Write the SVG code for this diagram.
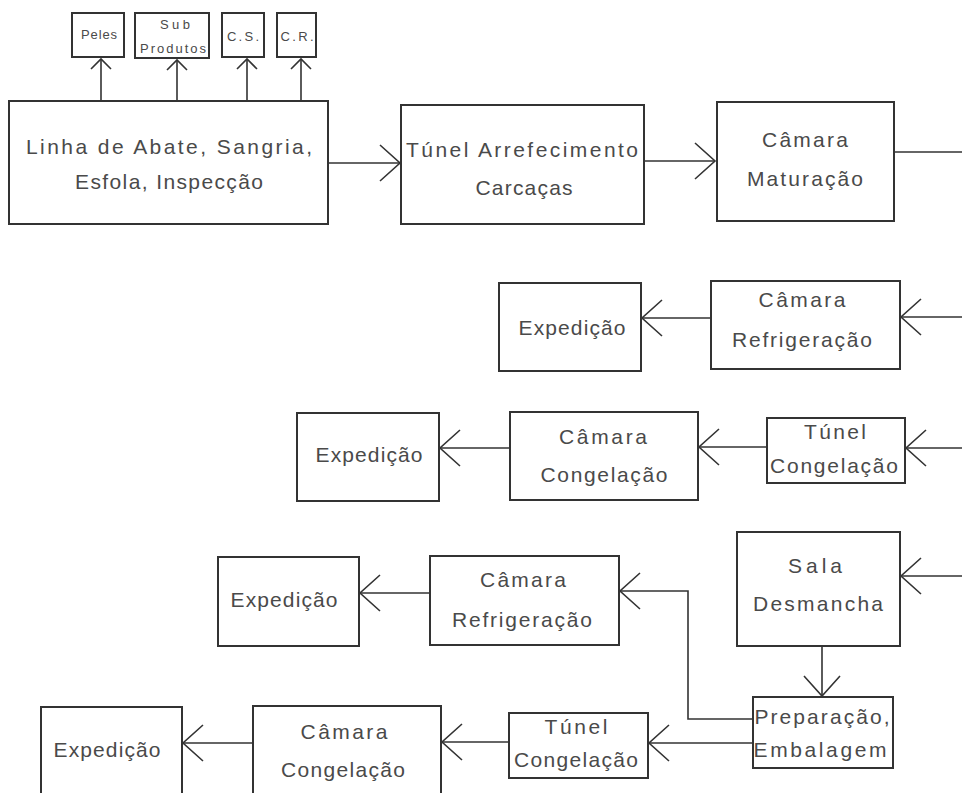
<svg xmlns="http://www.w3.org/2000/svg" width="962" height="793" viewBox="0 0 962 793">
<defs>
<style>
.box{fill:#fff;stroke:#333;stroke-width:2}
.c{fill:none;stroke:#333;stroke-width:1.6}
.t{font-family:"Liberation Sans",Arial,sans-serif;font-size:21px;fill:#4a4a4a;text-anchor:middle}
.s{font-family:"Liberation Sans",Arial,sans-serif;font-size:13px;fill:#4a4a4a;text-anchor:middle}
</style>
<marker id="arr" markerUnits="userSpaceOnUse" viewBox="-22 -20 24 40" refX="0" refY="0" markerWidth="24" markerHeight="40" orient="auto" overflow="visible">
<path d="M-20,-18 L0,0 L-20,18" fill="none" stroke="#333" stroke-width="1.6"/>
</marker>
<marker id="arrs" markerUnits="userSpaceOnUse" viewBox="-12 -12 14 24" refX="0" refY="0" markerWidth="14" markerHeight="24" orient="auto" overflow="visible">
<path d="M-10,-10 L0,0 L-10,10" fill="none" stroke="#333" stroke-width="1.6"/>
</marker>
</defs>
<rect width="962" height="793" fill="#fff"/>
<g id="connectors">
<path class="c" d="M101,101 V59" marker-end="url(#arrs)"/>
<path class="c" d="M177,101 V60" marker-end="url(#arrs)"/>
<path class="c" d="M247,101 V59" marker-end="url(#arrs)"/>
<path class="c" d="M301,101 V59" marker-end="url(#arrs)"/>
<path class="c" d="M328,163 H400" marker-end="url(#arr)"/>
<path class="c" d="M644,161 H715" marker-end="url(#arr)"/>
<path class="c" d="M894,152 H962"/>
<path class="c" d="M962,317 H901" marker-end="url(#arr)"/>
<path class="c" d="M711,318 H642" marker-end="url(#arr)"/>
<path class="c" d="M962,448 H906" marker-end="url(#arr)"/>
<path class="c" d="M767,447 H699" marker-end="url(#arr)"/>
<path class="c" d="M510,448 H440" marker-end="url(#arr)"/>
<path class="c" d="M962,576 H901" marker-end="url(#arr)"/>
<path class="c" d="M822,646 V696" marker-end="url(#arr)"/>
<path class="c" d="M753,719 H688 V591 H620" marker-end="url(#arr)"/>
<path class="c" d="M430,593 H360" marker-end="url(#arr)"/>
<path class="c" d="M753,743 H649" marker-end="url(#arr)"/>
<path class="c" d="M509,742 H442" marker-end="url(#arr)"/>
<path class="c" d="M253,743 H183" marker-end="url(#arr)"/>
</g>
<g id="peles"><rect class="box" x="72" y="13" width="52" height="44"/><text class="s" x="99" y="39" textLength="36">Peles</text></g>
<g id="subprodutos"><rect class="box" x="135" y="13" width="74" height="45"/><text class="s" x="175" y="29" textLength="30">Sub</text><text class="s" x="173" y="53" textLength="66">Produtos</text></g>
<g id="cs"><rect class="box" x="222" y="13" width="42" height="44"/><text class="s" x="243" y="41" textLength="32">C.S.</text></g>
<g id="cr"><rect class="box" x="277" y="13" width="39" height="44"/><text class="s" x="297" y="41" textLength="33">C.R.</text></g>
<g id="linha_abate"><rect class="box" x="9" y="101" width="319" height="123"/><text class="t" x="169" y="154" textLength="286">Linha de Abate, Sangria,</text><text class="t" x="169" y="189" textLength="188">Esfola, Inspecção</text></g>
<g id="tunel_arrefecimento"><rect class="box" x="401" y="105" width="243" height="119"/><text class="t" x="522" y="157" textLength="232">Túnel Arrefecimento</text><text class="t" x="524" y="195" textLength="97">Carcaças</text></g>
<g id="camara_maturacao"><rect class="box" x="717" y="102" width="177" height="119"/><text class="t" x="805" y="147" textLength="86">Câmara</text><text class="t" x="805" y="186" textLength="116">Maturação</text></g>
<g id="expedicao1"><rect class="box" x="499" y="283" width="142" height="88"/><text class="t" x="572" y="335" textLength="107">Expedição</text></g>
<g id="camara_refrigeracao1"><rect class="box" x="711" y="281" width="189" height="88"/><text class="t" x="802" y="307" textLength="87">Câmara</text><text class="t" x="802" y="347" textLength="140">Refrigeração</text></g>
<g id="expedicao2"><rect class="box" x="297" y="413" width="142" height="88"/><text class="t" x="369" y="462" textLength="107">Expedição</text></g>
<g id="camara_congelacao1"><rect class="box" x="510" y="412" width="188" height="88"/><text class="t" x="603" y="444" textLength="88">Câmara</text><text class="t" x="604" y="482" textLength="127">Congelação</text></g>
<g id="tunel_congelacao1"><rect class="box" x="767" y="418" width="138" height="65"/><text class="t" x="835" y="439" textLength="62">Túnel</text><text class="t" x="834" y="473" textLength="128">Congelação</text></g>
<g id="expedicao3"><rect class="box" x="218" y="557" width="141" height="89"/><text class="t" x="284" y="607" textLength="107">Expedição</text></g>
<g id="camara_refrigeracao2"><rect class="box" x="430" y="556" width="189" height="89"/><text class="t" x="523" y="587" textLength="86">Câmara</text><text class="t" x="522" y="627" textLength="140">Refrigeração</text></g>
<g id="sala_desmancha"><rect class="box" x="737" y="532" width="163" height="114"/><text class="t" x="815" y="573" textLength="54">Sala</text><text class="t" x="818" y="611" textLength="130">Desmancha</text></g>
<g id="preparacao_embalagem"><rect class="box" x="753" y="697" width="140" height="71"/><text class="t" x="822" y="724" textLength="135">Preparação,</text><text class="t" x="820" y="757" textLength="133">Embalagem</text></g>
<g id="expedicao4"><rect class="box" x="41" y="707" width="141" height="120"/><text class="t" x="107" y="757" textLength="107">Expedição</text></g>
<g id="camara_congelacao2"><rect class="box" x="253" y="706" width="188" height="120"/><text class="t" x="344" y="739" textLength="87">Câmara</text><text class="t" x="343" y="777" textLength="124">Congelação</text></g>
<g id="tunel_congelacao2"><rect class="box" x="509" y="713" width="139" height="65"/><text class="t" x="576" y="734" textLength="63">Túnel</text><text class="t" x="576" y="767" textLength="124">Congelação</text></g>
</svg>
